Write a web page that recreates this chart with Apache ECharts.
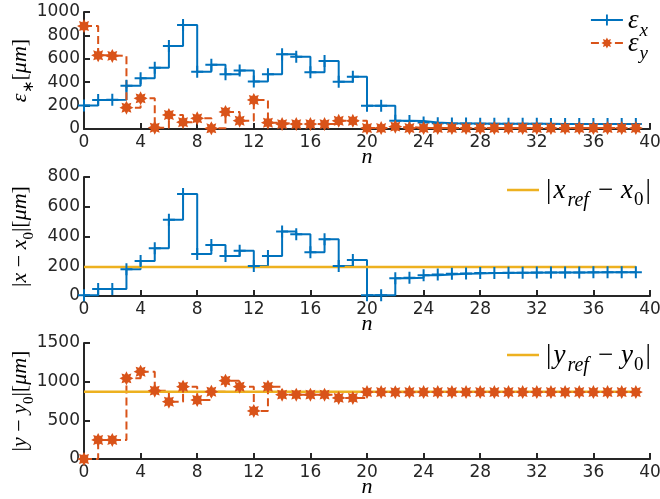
<!DOCTYPE html>
<html>
<head>
<meta charset="utf-8">
<script src="https://cdn.jsdelivr.net/npm/echarts@6/dist/echarts.min.js"></script>
<style>
html,body{margin:0;padding:0;background:#fff;}
#chart{width:660px;height:499px;}
</style>
</head>
<body>
<div id="chart"></div>
<script>
// ---- data ----
const nValues = Array.from({length: 40}, (_, i) => i); // n = 0..39
const epsX = [200, 248, 250, 370, 433, 524, 709, 889, 490, 550, 468, 500, 406, 468, 638, 618, 484, 581, 404, 447,
              199, 199, 71, 68, 55, 50, 47, 46, 45, 45, 44, 44, 44, 43, 43, 43, 43, 42, 42, 42];
const epsY = [880, 630, 625, 182, 262, 11, 120, 58, 91, 6, 146, 71, 248, 54, 42, 42, 42, 42, 70, 70,
              8, 8, 20, 8, 8, 8, 8, 8, 8, 8, 8, 8, 8, 8, 8, 8, 8, 8, 8, 8];
const devX = [5, 47, 47, 180, 235, 321, 513, 686, 282, 343, 269, 305, 202, 269, 433, 415, 294, 381, 202, 242,
              5, 5, 120, 122, 140, 145, 150, 152, 155, 155, 157, 157, 158, 158, 158, 158, 159, 159, 159, 159];
const devY = [0, 246, 246, 1043, 1129, 884, 741, 935, 763, 870, 1013, 935, 621, 935, 832, 832, 832, 832, 790, 790,
              866, 866, 864, 866, 866, 866, 866, 866, 866, 866, 866, 866, 866, 866, 866, 866, 866, 866, 866, 866];
const refX = 195;
const refY = 870;
const refRange = [0, 39];
const xTicks = {min: 0, max: 40, interval: 4};
const yTop = {min: 0, max: 1000, interval: 200};
const yMid = {min: 0, max: 800, interval: 200};
const yBot = {min: 0, max: 1500, interval: 500};

// ---- styles ----
const BLUE = '#0072BD', ORANGE = '#D95319', YELLOW = '#EDB120', AX = '#262626';
const SERIF = 'Liberation Serif';
const SANS = 'DejaVu Sans';
const plusSym = 'path://M5,0H7V5H12V7H7V12H5V7H0V5H5Z';
function starPath() {
  const p = [];
  for (let k = 0; k < 16; k++) {
    const a = k * Math.PI / 8;
    const r = (k % 2) ? 3.6 : 6;
    p.push((6 + r * Math.cos(a)).toFixed(2) + ',' + (6 + r * Math.sin(a)).toFixed(2));
  }
  return 'path://M' + p.join('L') + 'Z';
}
const starSym = starPath();
const lineIcon = 'path://M0,0H32V2.5H0Z';

const pairs = (xs, ys) => xs.map((x, i) => [x, ys[i]]);

const richMath = {
  m: {fontFamily: SERIF, fontStyle: 'italic', fontSize: 22, color: '#000', lineHeight: 26, verticalAlign: 'top'},
  r: {fontFamily: SERIF, fontSize: 22, color: '#000', lineHeight: 26, verticalAlign: 'top'},
  s: {fontFamily: SERIF, fontStyle: 'italic', fontSize: 15, color: '#000', lineHeight: 15, padding: [13, 0, 0, 0], verticalAlign: 'top'},
  su: {fontFamily: SERIF, fontSize: 15, color: '#000', lineHeight: 15, padding: [13, 0, 0, 0], verticalAlign: 'top'}
};
const richLeg = {
  m: {fontFamily: SERIF, fontStyle: 'italic', fontSize: 27, color: '#000', lineHeight: 26, verticalAlign: 'top'},
  r: {fontFamily: SERIF, fontSize: 27, color: '#000', lineHeight: 26, verticalAlign: 'top'},
  b: {fontFamily: SERIF, fontSize: 27, color: '#000', lineHeight: 26, verticalAlign: 'top', padding: [0, 2, 0, 2]},
  mi: {fontFamily: SERIF, fontSize: 27, color: '#000', lineHeight: 26, verticalAlign: 'top', padding: [0, 8, 0, 8]},
  s: {fontFamily: SERIF, fontStyle: 'italic', fontSize: 19, color: '#000', lineHeight: 14, padding: [14, 1, 0, 1], verticalAlign: 'top'},
  sr: {fontFamily: SERIF, fontStyle: 'italic', fontSize: 20, color: '#000', lineHeight: 14, padding: [14, 1, 0, 2], verticalAlign: 'top'},
  su: {fontFamily: SERIF, fontSize: 19, color: '#000', lineHeight: 14, padding: [14, 0, 0, 1], verticalAlign: 'top'}
};

const grids = [
  {left: 84, right: 10, top: 12, height: 117, outerBoundsMode: 'none', containLabel: false},
  {left: 84, right: 10, top: 177, height: 119, outerBoundsMode: 'none', containLabel: false},
  {left: 84, right: 10, top: 343, height: 116, outerBoundsMode: 'none', containLabel: false}
];

function xAxis(idx) {
  return {
    type: 'value', gridIndex: idx, min: xTicks.min, max: xTicks.max, interval: xTicks.interval,
    name: '{m|n}', nameLocation: 'middle', nameGap: 17, nameMoveOverlap: false,
    nameTextStyle: {rich: richMath},
    axisLine: {show: true, onZero: false, lineStyle: {color: AX, width: 2}},
    axisTick: {show: true, inside: true, length: 6, lineStyle: {color: AX, width: 2}},
    axisLabel: {color: AX, fontFamily: SANS, fontSize: 17, margin: 5, formatter: v => String(v)},
    splitLine: {show: false}
  };
}
function yAxis(idx, rng, name) {
  return {
    type: 'value', gridIndex: idx, min: rng.min, max: rng.max, interval: rng.interval,
    name: name, nameLocation: 'middle', nameGap: 49, nameRotate: 90, nameMoveOverlap: false,
    nameTextStyle: {rich: richMath},
    axisLine: {show: true, lineStyle: {color: AX, width: 2}},
    axisTick: {show: true, inside: true, length: 6, lineStyle: {color: AX, width: 2}},
    axisLabel: {color: AX, fontFamily: SANS, fontSize: 17, margin: 4, formatter: v => String(v)},
    splitLine: {show: false}
  };
}

const option = {
  animation: false,
  backgroundColor: '#fff',
  grid: grids,
  xAxis: [xAxis(0), xAxis(1), xAxis(2)],
  yAxis: [
    yAxis(0, yTop, '{m|ε}{su|∗}{r|[}{m|μm}{r|]}'),
    yAxis(1, yMid, '{r||}{m|x}{r| − }{m|x}{su|0}{r||[}{m|μm}{r|]}'),
    yAxis(2, yBot, '{r||}{m|y}{r| − }{m|y}{su|0}{r||[}{m|μm}{r|]}')
  ],
  legend: [
    {
      data: ['epsx', 'epsy'], orient: 'vertical', right: 6, top: 2, itemWidth: 32, itemHeight: 14, itemGap: -10,
      formatter: n => n === 'epsx' ? '{m|ε}{s|x}' : '{m|ε}{s|y}',
      textStyle: {rich: richLeg}
    },
    {
      data: [{name: 'refx', icon: lineIcon}], orient: 'vertical', right: 2, top: 172, itemWidth: 32, itemHeight: 2.5,
      formatter: () => '{b||}{m|x}{sr|ref}{mi|−}{m|x}{su|0}{b||}',
      textStyle: {rich: richLeg}
    },
    {
      data: [{name: 'refy', icon: lineIcon}], orient: 'vertical', right: 2, top: 337, itemWidth: 32, itemHeight: 2.5,
      formatter: () => '{b||}{m|y}{sr|ref}{mi|−}{m|y}{su|0}{b||}',
      textStyle: {rich: richLeg}
    }
  ],
  series: [
    {
      name: 'epsx', type: 'line', xAxisIndex: 0, yAxisIndex: 0, step: 'end',
      data: pairs(nValues, epsX), symbol: plusSym, symbolSize: 12, showAllSymbol: true, clip: false,
      lineStyle: {color: BLUE, width: 2}, itemStyle: {color: BLUE}
    },
    {
      name: 'epsy', type: 'line', xAxisIndex: 0, yAxisIndex: 0, step: 'end',
      data: pairs(nValues, epsY), symbol: starSym, symbolSize: 14, showAllSymbol: true, clip: false,
      lineStyle: {color: ORANGE, width: 2, type: [8, 4]}, itemStyle: {color: ORANGE}
    },
    {
      name: 'devx', type: 'line', xAxisIndex: 1, yAxisIndex: 1, step: 'end',
      data: pairs(nValues, devX), symbol: plusSym, symbolSize: 12, showAllSymbol: true, clip: false,
      lineStyle: {color: BLUE, width: 2}, itemStyle: {color: BLUE}
    },
    {
      name: 'refx', type: 'line', xAxisIndex: 1, yAxisIndex: 1, symbol: 'none',
      data: refRange.map(x => [x, refX]), lineStyle: {color: YELLOW, width: 2.5}, itemStyle: {color: YELLOW}
    },
    {
      name: 'devy', type: 'line', xAxisIndex: 2, yAxisIndex: 2, step: 'end',
      data: pairs(nValues, devY), symbol: starSym, symbolSize: 14, showAllSymbol: true, clip: false,
      lineStyle: {color: ORANGE, width: 2, type: [8, 4]}, itemStyle: {color: ORANGE}
    },
    {
      name: 'refy', type: 'line', xAxisIndex: 2, yAxisIndex: 2, symbol: 'none',
      data: refRange.map(x => [x, refY]), lineStyle: {color: YELLOW, width: 2.5}, itemStyle: {color: YELLOW}
    }
  ]
};
const chart = echarts.init(document.getElementById('chart'), null, {renderer: 'canvas'});
chart.setOption(option);
</script>
</body>
</html>
